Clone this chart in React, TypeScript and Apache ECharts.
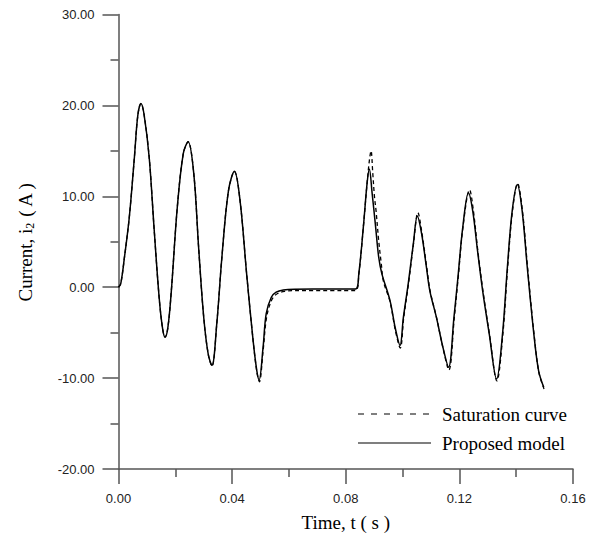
import React, { useEffect, useRef } from "react";
import * as echarts from "echarts";

// Time (s), current (A)
const proposedModel: [number, number][] = [
  [0, 0], [0.0008, 0.4], [0.0021, 3.3], [0.0038, 7.7], [0.0056, 14.3], [0.0068, 18.9], [0.0079, 20.2],
  [0.009, 19.0], [0.0108, 14.3], [0.0125, 6.6], [0.0143, -1.1], [0.0155, -4.5], [0.0164, -5.5],
  [0.0174, -4.4], [0.0186, -0.4], [0.0207, 8.8], [0.0228, 14.7], [0.0245, 16.0], [0.0265, 12.5],
  [0.0282, 4.4], [0.03, -3.3], [0.0316, -7.4], [0.0329, -8.6], [0.0346, -4.0], [0.0364, 3.3],
  [0.0387, 10.6], [0.0408, 12.75], [0.0428, 9.5], [0.0451, 1.5], [0.0474, -5.9], [0.0487, -9.2],
  [0.0495, -10.2], [0.0509, -6.6], [0.052, -2.9], [0.0538, -1.1], [0.0555, -0.55], [0.058, -0.3],
  [0.062, -0.22], [0.0834, -0.2], [0.0846, 1.5], [0.0863, 7.0], [0.0875, 11.4], [0.0883, 13.0],
  [0.0893, 10.3], [0.0904, 7.0], [0.0916, 3.3], [0.0927, 1.5], [0.0956, -1.5], [0.0975, -4.6],
  [0.0991, -6.4], [0.1003, -3.3], [0.102, 0.4], [0.1038, 4.8], [0.1052, 7.8], [0.1067, 5.9],
  [0.1084, 2.2], [0.1096, -0.4], [0.1119, -3.3], [0.1142, -6.6], [0.1162, -8.8], [0.1181, -3.3],
  [0.1195, 1.1], [0.1212, 6.6], [0.1232, 10.4], [0.1247, 8.4], [0.1264, 4.0], [0.1282, -0.4],
  [0.1305, -5.1], [0.1331, -10.1], [0.1352, -5.1], [0.1369, 2.2], [0.1386, 8.4], [0.1404, 11.3],
  [0.1421, 8.4], [0.1439, 2.2], [0.1462, -5.1], [0.1479, -9.2], [0.1497, -11.0],
];

const saturationCurve: [number, number][] = [
  [0, 0], [0.0008, 0.4], [0.0021, 3.3], [0.0038, 7.7], [0.0056, 14.3], [0.0068, 18.9], [0.0079, 20.2],
  [0.009, 19.0], [0.0108, 14.3], [0.0125, 6.6], [0.0143, -1.1], [0.0155, -4.5], [0.0164, -5.5],
  [0.0174, -4.4], [0.0186, -0.4], [0.0207, 8.8], [0.0228, 14.7], [0.0245, 16.0], [0.0265, 12.5],
  [0.0282, 4.4], [0.03, -3.3], [0.0316, -7.4], [0.0329, -8.7], [0.0346, -4.0], [0.0364, 3.3],
  [0.0387, 10.6], [0.0408, 12.75], [0.0428, 9.5], [0.0451, 1.5], [0.0474, -5.9], [0.0487, -9.3],
  [0.0496, -10.4], [0.0509, -7.0], [0.0522, -3.2], [0.0541, -1.3], [0.056, -0.7], [0.0585, -0.45],
  [0.0625, -0.38], [0.0834, -0.36], [0.0846, 1.4], [0.0863, 7.0], [0.0875, 11.4], [0.0883, 13.9],
  [0.0889, 15.0], [0.0895, 12.6], [0.0901, 10.0], [0.0907, 8.3], [0.0916, 5.1], [0.0925, 2.6],
  [0.0933, 0.6], [0.0956, -1.6], [0.0975, -4.8], [0.0992, -6.7], [0.1004, -3.4], [0.1021, 0.4],
  [0.1039, 4.9], [0.1054, 8.2], [0.1068, 6.0], [0.1085, 2.2], [0.1097, -0.4], [0.112, -3.4],
  [0.1143, -6.8], [0.1163, -9.1], [0.1182, -3.4], [0.1196, 1.1], [0.1213, 6.7], [0.1236, 10.7],
  [0.1249, 8.5], [0.1265, 4.0], [0.1283, -0.4], [0.1306, -5.2], [0.1332, -10.3], [0.1353, -5.2],
  [0.137, 2.2], [0.1387, 8.4], [0.1405, 11.4], [0.1422, 8.4], [0.144, 2.2], [0.1463, -5.2],
  [0.148, -9.4], [0.1498, -11.2],
];

const seriesNames = ["Saturation curve", "Proposed model"];
const xTitle = "Time, t ( s )";
const yTitle = "{n|Current, i}{s|2}{n| ( A )}";

export default function App() {
  const ref = useRef<HTMLDivElement>(null);
  useEffect(() => {
    if (!ref.current) return;
    const chart = echarts.init(ref.current, null, { renderer: "svg" });
    const axisColor = "#555";
    const serif = "'Liberation Serif', 'Times New Roman', serif";
    const sans = "'Liberation Sans', Arial, sans-serif";
    chart.setOption({
      animation: false,
      backgroundColor: "#fff",
      grid: { left: 106, right: 22, top: 6, bottom: 74, containLabel: false },
      xAxis: {
        type: "value",
        min: 0,
        max: 0.16,
        interval: 0.04,
        name: xTitle,
        nameLocation: "middle",
        nameGap: 44,
        nameTextStyle: { fontFamily: serif, fontSize: 19, color: "#000" },
        axisLine: { show: true, onZero: false, lineStyle: { color: axisColor, width: 1.5 } },
        axisTick: { show: true, inside: false, length: 15, lineStyle: { color: axisColor, width: 1.5 } },
        minorTick: { show: true, splitNumber: 2, length: 8, lineStyle: { color: axisColor, width: 1.5 } },
        splitLine: { show: false },
        axisLabel: {
          margin: 23,
          fontFamily: sans,
          fontSize: 13,
          color: "#222",
          formatter: (v: number) => v.toFixed(2),
        },
      },
      yAxis: {
        type: "value",
        min: -20,
        max: 30,
        interval: 10,
        name: yTitle,
        nameLocation: "middle",
        nameRotate: 90,
        nameGap: 83,
        nameTextStyle: {
          fontFamily: serif,
          fontSize: 19,
          color: "#000",
          rich: {
            n: { fontFamily: serif, fontSize: 19, color: "#000" },
            s: { fontFamily: serif, fontSize: 12, color: "#000", verticalAlign: "bottom", padding: [8, 0, 0, 0] },
          },
        },
        axisLine: { show: true, onZero: false, lineStyle: { color: axisColor, width: 1.5 } },
        axisTick: { show: true, inside: false, length: 16, lineStyle: { color: axisColor, width: 1.5 } },
        minorTick: { show: true, splitNumber: 2, length: 8, lineStyle: { color: axisColor, width: 1.5 } },
        splitLine: { show: false },
        axisLabel: {
          margin: 24,
          fontFamily: sans,
          fontSize: 13,
          color: "#222",
          formatter: (v: number) => v.toFixed(2),
        },
      },
      series: [
        {
          name: seriesNames[0],
          type: "line",
          data: saturationCurve,
          showSymbol: false,
          symbol: "none",
          smooth: 0.35,
          lineStyle: { color: "#000", width: 1.3, type: [4, 3] },
          z: 2,
        },
        {
          name: seriesNames[1],
          type: "line",
          data: proposedModel,
          showSymbol: false,
          symbol: "none",
          smooth: 0.35,
          lineStyle: { color: "#000", width: 1.5 },
          z: 3,
        },
      ],
      graphic: [
        {
          type: "line",
          shape: { x1: 350, y1: 406, x2: 423, y2: 406 },
          style: { stroke: "#000", lineWidth: 1.2, lineDash: [6, 7] },
        },
        {
          type: "text",
          x: 434,
          y: 406,
          style: { text: seriesNames[0], font: `19px ${serif}`, fill: "#000", verticalAlign: "middle" },
        },
        {
          type: "line",
          shape: { x1: 350, y1: 435, x2: 423, y2: 435 },
          style: { stroke: "#000", lineWidth: 1.2 },
        },
        {
          type: "text",
          x: 434,
          y: 435,
          style: { text: seriesNames[1], font: `19px ${serif}`, fill: "#000", verticalAlign: "middle" },
        },
      ],
    });
    return () => chart.dispose();
  }, []);
  return <div ref={ref} style={{ width: 587, height: 535 }} />;
}
